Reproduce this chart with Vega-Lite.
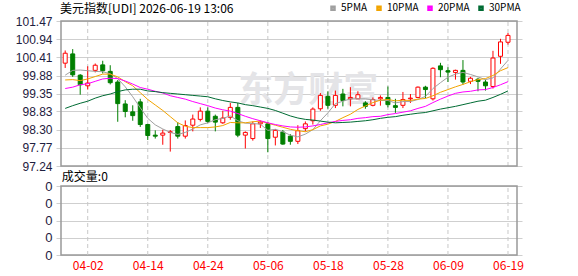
{
  "$schema": "https://vega.github.io/schema/vega-lite/v6.json",
  "width": 466,
  "height": 234,
  "autosize": "none",
  "padding": {"left": 56, "top": 21, "right": 56, "bottom": 21},
  "background": "#ffffff",
  "config": {"view": {"stroke": null}},
  "data": {"values": [
    {"i":0,"o":100.24,"h":100.61,"l":100.10,"c":100.53,"5PMA":99.89,"10PMA":99.75,"20PMA":99.50,"30PMA":98.92},
    {"i":1,"o":100.51,"h":100.65,"l":99.84,"c":99.90,"5PMA":100.03,"10PMA":99.76,"20PMA":99.54,"30PMA":99.00},
    {"i":2,"o":99.89,"h":99.92,"l":99.32,"c":99.61,"5PMA":100.04,"10PMA":99.73,"20PMA":99.61,"30PMA":99.07},
    {"i":3,"o":99.58,"h":100.15,"l":99.47,"c":99.66,"5PMA":100.02,"10PMA":99.78,"20PMA":99.64,"30PMA":99.13},
    {"i":4,"o":100.03,"h":100.23,"l":99.97,"c":100.18,"5PMA":100.00,"10PMA":99.85,"20PMA":99.71,"30PMA":99.22},
    {"i":5,"o":100.19,"h":100.31,"l":99.94,"c":100.02,"5PMA":99.99,"10PMA":99.92,"20PMA":99.78,"30PMA":99.29},
    {"i":6,"o":100.00,"h":100.18,"l":99.62,"c":99.67,"5PMA":99.93,"10PMA":99.92,"20PMA":99.80,"30PMA":99.34},
    {"i":7,"o":99.69,"h":99.75,"l":98.53,"c":99.06,"5PMA":99.79,"10PMA":99.84,"20PMA":99.79,"30PMA":99.41},
    {"i":8,"o":99.05,"h":99.16,"l":98.66,"c":98.83,"5PMA":99.55,"10PMA":99.70,"20PMA":99.72,"30PMA":99.46},
    {"i":9,"o":98.82,"h":99.01,"l":98.56,"c":98.71,"5PMA":99.26,"10PMA":99.58,"20PMA":99.63,"30PMA":99.48},
    {"i":10,"o":99.11,"h":99.20,"l":98.38,"c":98.45,"5PMA":98.94,"10PMA":99.38,"20PMA":99.53,"30PMA":99.48},
    {"i":11,"o":98.45,"h":98.47,"l":98.00,"c":98.13,"5PMA":98.63,"10PMA":99.18,"20PMA":99.48,"30PMA":99.43},
    {"i":12,"o":98.14,"h":98.28,"l":98.04,"c":98.11,"5PMA":98.44,"10PMA":99.02,"20PMA":99.42,"30PMA":99.41},
    {"i":13,"o":98.14,"h":98.30,"l":97.86,"c":98.20,"5PMA":98.32,"10PMA":98.86,"20PMA":99.37,"30PMA":99.38},
    {"i":14,"o":98.22,"h":98.29,"l":97.66,"c":98.24,"5PMA":98.22,"10PMA":98.68,"20PMA":99.29,"30PMA":99.36},
    {"i":15,"o":98.39,"h":98.52,"l":98.04,"c":98.11,"5PMA":98.16,"10PMA":98.50,"20PMA":99.24,"30PMA":99.34},
    {"i":16,"o":98.11,"h":98.57,"l":98.04,"c":98.42,"5PMA":98.22,"10PMA":98.40,"20PMA":99.19,"30PMA":99.32},
    {"i":17,"o":98.43,"h":98.74,"l":98.25,"c":98.61,"5PMA":98.32,"10PMA":98.36,"20PMA":99.12,"30PMA":99.30},
    {"i":18,"o":98.60,"h":98.95,"l":98.54,"c":98.84,"5PMA":98.44,"10PMA":98.36,"20PMA":99.06,"30PMA":99.28},
    {"i":19,"o":98.84,"h":98.95,"l":98.49,"c":98.54,"5PMA":98.50,"10PMA":98.36,"20PMA":99.00,"30PMA":99.26},
    {"i":20,"o":98.69,"h":98.74,"l":98.25,"c":98.52,"5PMA":98.59,"10PMA":98.38,"20PMA":98.93,"30PMA":99.20},
    {"i":21,"o":98.50,"h":98.85,"l":98.47,"c":98.64,"5PMA":98.63,"10PMA":98.42,"20PMA":98.88,"30PMA":99.15},
    {"i":22,"o":98.66,"h":99.08,"l":98.59,"c":98.95,"5PMA":98.70,"10PMA":98.51,"20PMA":98.84,"30PMA":99.11},
    {"i":23,"o":98.95,"h":99.08,"l":98.08,"c":98.14,"5PMA":98.56,"10PMA":98.50,"20PMA":98.77,"30PMA":99.08},
    {"i":24,"o":98.14,"h":98.25,"l":97.75,"c":98.22,"5PMA":98.49,"10PMA":98.50,"20PMA":98.69,"30PMA":99.03},
    {"i":25,"o":98.04,"h":98.54,"l":97.98,"c":98.47,"5PMA":98.48,"10PMA":98.53,"20PMA":98.62,"30PMA":99.00},
    {"i":26,"o":98.47,"h":98.57,"l":98.35,"c":98.52,"5PMA":98.46,"10PMA":98.55,"20PMA":98.56,"30PMA":98.96},
    {"i":27,"o":98.47,"h":98.52,"l":97.64,"c":98.04,"5PMA":98.28,"10PMA":98.49,"20PMA":98.50,"30PMA":98.92},
    {"i":28,"o":98.08,"h":98.32,"l":97.84,"c":98.28,"5PMA":98.31,"10PMA":98.43,"20PMA":98.45,"30PMA":98.86},
    {"i":29,"o":98.23,"h":98.29,"l":97.86,"c":97.88,"5PMA":98.24,"10PMA":98.37,"20PMA":98.41,"30PMA":98.78},
    {"i":30,"o":98.11,"h":98.17,"l":97.86,"c":97.96,"5PMA":98.14,"10PMA":98.31,"20PMA":98.38,"30PMA":98.70},
    {"i":31,"o":97.96,"h":98.43,"l":97.88,"c":98.27,"5PMA":98.09,"10PMA":98.27,"20PMA":98.37,"30PMA":98.64},
    {"i":32,"o":98.33,"h":98.54,"l":98.25,"c":98.47,"5PMA":98.17,"10PMA":98.24,"20PMA":98.38,"30PMA":98.60},
    {"i":33,"o":98.56,"h":98.95,"l":98.45,"c":98.90,"5PMA":98.30,"10PMA":98.30,"20PMA":98.41,"30PMA":98.58},
    {"i":34,"o":98.91,"h":99.37,"l":98.85,"c":99.30,"5PMA":98.56,"10PMA":98.41,"20PMA":98.45,"30PMA":98.55},
    {"i":35,"o":99.27,"h":99.42,"l":98.91,"c":99.01,"5PMA":98.79,"10PMA":98.46,"20PMA":98.50,"30PMA":98.52},
    {"i":36,"o":99.01,"h":99.44,"l":98.93,"c":99.30,"5PMA":99.06,"10PMA":98.54,"20PMA":98.54,"30PMA":98.50},
    {"i":37,"o":99.34,"h":99.49,"l":98.98,"c":99.15,"5PMA":99.13,"10PMA":98.65,"20PMA":98.57,"30PMA":98.51},
    {"i":38,"o":99.20,"h":99.54,"l":98.98,"c":99.24,"5PMA":99.20,"10PMA":98.75,"20PMA":98.59,"30PMA":98.52},
    {"i":39,"o":99.20,"h":99.42,"l":99.20,"c":99.32,"5PMA":99.20,"10PMA":98.89,"20PMA":98.63,"30PMA":98.54},
    {"i":40,"o":99.08,"h":99.13,"l":98.91,"c":98.98,"5PMA":99.20,"10PMA":98.99,"20PMA":98.65,"30PMA":98.56},
    {"i":41,"o":99.01,"h":99.24,"l":98.98,"c":99.18,"5PMA":99.17,"10PMA":99.09,"20PMA":98.68,"30PMA":98.59},
    {"i":42,"o":99.20,"h":99.30,"l":99.00,"c":99.24,"5PMA":99.15,"10PMA":99.16,"20PMA":98.69,"30PMA":98.63},
    {"i":43,"o":99.24,"h":99.56,"l":98.95,"c":99.03,"5PMA":99.15,"10PMA":99.18,"20PMA":98.74,"30PMA":98.66},
    {"i":44,"o":99.00,"h":99.20,"l":98.79,"c":98.95,"5PMA":99.08,"10PMA":99.14,"20PMA":98.77,"30PMA":98.68},
    {"i":45,"o":99.01,"h":99.40,"l":98.93,"c":99.18,"5PMA":99.12,"10PMA":99.16,"20PMA":98.81,"30PMA":98.72},
    {"i":46,"o":99.20,"h":99.34,"l":99.08,"c":99.22,"5PMA":99.12,"10PMA":99.15,"20PMA":98.85,"30PMA":98.75},
    {"i":47,"o":99.24,"h":99.56,"l":99.22,"c":99.54,"5PMA":99.18,"10PMA":99.19,"20PMA":98.92,"30PMA":98.78},
    {"i":48,"o":99.54,"h":99.58,"l":99.22,"c":99.47,"5PMA":99.27,"10PMA":99.21,"20PMA":98.98,"30PMA":98.80},
    {"i":49,"o":99.20,"h":100.12,"l":99.15,"c":100.09,"5PMA":99.50,"10PMA":99.29,"20PMA":99.09,"30PMA":98.85},
    {"i":50,"o":100.16,"h":100.25,"l":99.83,"c":100.05,"5PMA":99.67,"10PMA":99.39,"20PMA":99.19,"30PMA":98.90},
    {"i":51,"o":100.02,"h":100.12,"l":99.69,"c":99.98,"5PMA":99.83,"10PMA":99.47,"20PMA":99.28,"30PMA":98.94},
    {"i":52,"o":99.97,"h":100.05,"l":99.76,"c":100.03,"5PMA":99.92,"10PMA":99.55,"20PMA":99.36,"30PMA":98.98},
    {"i":53,"o":100.03,"h":100.33,"l":99.61,"c":99.69,"5PMA":99.97,"10PMA":99.62,"20PMA":99.40,"30PMA":99.03},
    {"i":54,"o":99.71,"h":99.84,"l":99.63,"c":99.80,"5PMA":99.91,"10PMA":99.70,"20PMA":99.42,"30PMA":99.08},
    {"i":55,"o":99.77,"h":99.81,"l":99.42,"c":99.71,"5PMA":99.84,"10PMA":99.76,"20PMA":99.46,"30PMA":99.13},
    {"i":56,"o":99.69,"h":99.76,"l":99.44,"c":99.58,"5PMA":99.76,"10PMA":99.79,"20PMA":99.47,"30PMA":99.16},
    {"i":57,"o":99.56,"h":100.60,"l":99.50,"c":100.39,"5PMA":99.81,"10PMA":99.88,"20PMA":99.53,"30PMA":99.24},
    {"i":58,"o":100.44,"h":100.95,"l":100.22,"c":100.86,"5PMA":100.07,"10PMA":100.02,"20PMA":99.61,"30PMA":99.33},
    {"i":59,"o":100.85,"h":101.12,"l":100.78,"c":101.05,"5PMA":100.32,"10PMA":100.11,"20PMA":99.70,"30PMA":99.43}
  ]},
  "encoding": {
    "x": {
      "field": "i", "type": "quantitative", "title": null,
      "scale": {"domain": [-0.56, 60.2], "nice": false, "zero": false},
      "axis": {
        "values": [3, 11, 19, 27, 35, 43, 51, 59], "tickCount": 20,
        "labelExpr": "['04-02','04-14','04-24','05-06','05-18','05-28','06-09','06-19'][(datum.value-3)/8]",
        "grid": false, "domain": false, "ticks": false, "tickSize": 0,
        "labelColor": "#ff0000", "labelFont": "Noto Sans CJK SC", "labelFontSize": 12,
        "labelPadding": 5, "labelFlush": false, "labelOverlap": false
      }
    }
  },
  "layer": [
    {
      "layer": [
        {
          "transform": [{"filter": "datum.i == 0"}],
          "mark": {"type": "text", "text": "东方财富", "font": "Noto Sans CJK SC", "fontSize": 35, "fontWeight": "bold", "color": "#e4e4e7", "baseline": "middle", "align": "center"},
          "encoding": {
            "x": {"datum": 32.4, "type": "quantitative", "title": null},
            "y": {"datum": 99.43, "type": "quantitative", "title": null,
                  "scale": {"domain": [97.24, 101.47], "range": [145, 0], "nice": false, "zero": false},
                  "axis": {
                    "values": [97.24, 97.77, 98.30, 98.83, 99.35, 99.88, 100.41, 100.94, 101.47],
                    "tickCount": 20,
                    "format": ".2f", "orient": "left",
                    "grid": true, "gridColor": "#cfcfcf", "gridWidth": 1,
                    "domain": false, "ticks": false, "tickSize": 0,
                    "labelPadding": 4, "labelFont": "Liberation Sans", "labelFontSize": 12,
                    "labelColor": "#1e2040", "labelFlush": false, "labelBaseline": "middle",
                    "labelOverlap": false
                  }}
          }
        },
        {
          "transform": [{"filter": "datum.i % 8 == 3"}],
          "mark": {"type": "rule", "color": "#c8c8c8", "strokeDash": [4, 3], "strokeWidth": 1},
          "encoding": {
            "y": {"datum": 97.24, "type": "quantitative", "title": null, "scale": {"domain": [97.24, 101.47], "range": [145, 0], "nice": false, "zero": false}},
            "y2": {"datum": 101.47}
          }
        },
        {
          "mark": {"type": "rule", "strokeWidth": 1},
          "encoding": {
            "y": {"field": "l", "type": "quantitative", "title": null, "scale": {"domain": [97.24, 101.47], "range": [145, 0], "nice": false, "zero": false}},
            "y2": {"field": "h"},
            "color": {"condition": {"test": "datum.c >= datum.o", "value": "#ff0000"}, "value": "#007f00"}
          }
        },
        {
          "mark": {"type": "bar", "size": 4, "strokeWidth": 1},
          "encoding": {
            "y": {"field": "o", "type": "quantitative", "title": null, "scale": {"domain": [97.24, 101.47], "range": [145, 0], "nice": false, "zero": false}},
            "y2": {"field": "c"},
            "fill": {"condition": {"test": "datum.c >= datum.o", "value": "#ffffff"}, "value": "#007f00"},
            "stroke": {"condition": {"test": "datum.c >= datum.o", "value": "#ff0000"}, "value": "#007f00"}
          }
        },
        {
          "transform": [{"fold": ["5PMA", "10PMA", "20PMA", "30PMA"], "as": ["ma", "v"]}],
          "mark": {"type": "line", "strokeWidth": 1, "interpolate": "linear"},
          "encoding": {
            "y": {"field": "v", "type": "quantitative", "title": null, "scale": {"domain": [97.24, 101.47], "range": [145, 0], "nice": false, "zero": false}},
            "color": {
              "field": "ma", "type": "nominal", "title": null,
              "scale": {"domain": ["5PMA", "10PMA", "20PMA", "30PMA"], "range": ["#a0a0a0", "#f2a400", "#ff00ff", "#006b33"]},
              "legend": {
                "orient": "none", "legendX": 272, "legendY": -18, "direction": "horizontal",
                "symbolType": "square", "symbolSize": 9, "symbolStrokeWidth": 2.5,
                "labelFont": "Noto Sans CJK SC", "labelFontSize": 10, "labelColor": "#000000",
                "labelOffset": 3, "columnPadding": 4, "padding": 0
              }
            }
          }
        },
        {
          "transform": [{"filter": "datum.i == 0"}],
          "mark": {"type": "rect", "filled": false, "fill": null, "stroke": "#999999", "strokeWidth": 1.5},
          "encoding": {
            "x": {"datum": -0.56, "type": "quantitative", "title": null},
            "x2": {"datum": 60.2},
            "y": {"datum": 97.24, "type": "quantitative", "title": null, "scale": {"domain": [97.24, 101.47], "range": [145, 0], "nice": false, "zero": false}},
            "y2": {"datum": 101.47}
          }
        },
        {
          "transform": [{"filter": "datum.i == 0"}],
          "mark": {"type": "text", "text": "美元指数[UDI] 2026-06-19 13:06", "font": "Noto Sans CJK SC", "fontSize": 12, "color": "#000000", "align": "left", "baseline": "middle"},
          "encoding": {
            "x": {"datum": -0.69, "type": "quantitative", "title": null},
            "y": {"datum": 101.81, "type": "quantitative", "title": null, "scale": {"domain": [97.24, 101.47], "range": [145, 0], "nice": false, "zero": false}}
          }
        }
      ]
    },
    {
      "layer": [
        {
          "transform": [{"filter": "datum.i == 0"}],
          "mark": {"type": "rect", "filled": false, "fill": null, "stroke": "#999999", "strokeWidth": 1.5},
          "encoding": {
            "x": {"datum": -0.56, "type": "quantitative", "title": null},
            "x2": {"datum": 60.2},
            "y": {"datum": 0, "type": "quantitative", "title": null,
                  "scale": {"domain": [0, 4], "range": [234, 165], "nice": false, "zero": false},
                  "axis": {
                    "values": [0, 1, 2, 3, 4], "tickCount": 20, "labelExpr": "'0'", "orient": "left",
                    "grid": true, "gridColor": "#cfcfcf", "gridWidth": 1,
                    "domain": false, "ticks": false, "tickSize": 0,
                    "labelPadding": 4, "labelFont": "Liberation Sans", "labelFontSize": 13,
                    "labelColor": "#1e2040", "labelFlush": false, "labelBaseline": "middle",
                    "labelOverlap": false
                  }},
            "y2": {"datum": 4}
          }
        },
        {
          "transform": [{"filter": "datum.i % 8 == 3"}],
          "mark": {"type": "rule", "color": "#c8c8c8", "strokeDash": [4, 3], "strokeWidth": 1},
          "encoding": {
            "y": {"datum": 0, "type": "quantitative", "title": null, "scale": {"domain": [0, 4], "range": [234, 165], "nice": false, "zero": false}},
            "y2": {"datum": 4}
          }
        },
        {
          "transform": [{"filter": "datum.i == 0"}],
          "mark": {"type": "text", "text": "成交量:0", "font": "Noto Sans CJK SC", "fontSize": 12, "color": "#000000", "align": "left", "baseline": "middle"},
          "encoding": {
            "x": {"datum": -0.45, "type": "quantitative", "title": null},
            "y": {"datum": 4.52, "type": "quantitative", "title": null, "scale": {"domain": [0, 4], "range": [234, 165], "nice": false, "zero": false}}
          }
        }
      ]
    }
  ],
  "resolve": {"scale": {"y": "independent"}, "axis": {"y": "independent"}}
}
